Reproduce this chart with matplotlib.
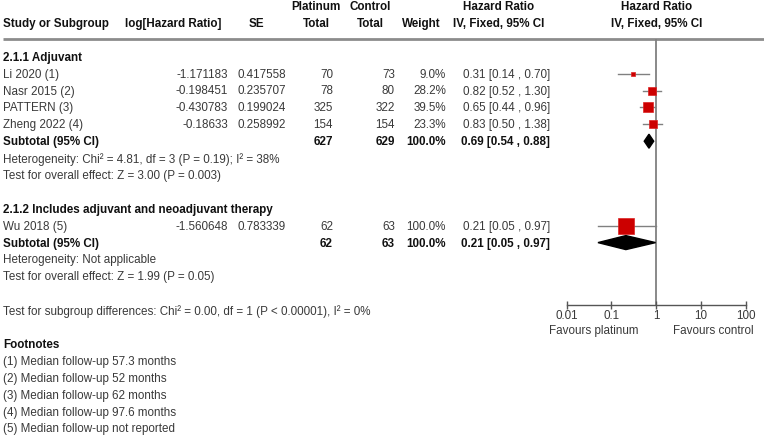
import matplotlib
matplotlib.use("Agg")
import matplotlib.pyplot as plt
import numpy as np

plt.rcParams['font.family'] = ['Liberation Sans', 'DejaVu Sans']

# Datos de los estudios
studies = ["Li 2020 (1)", "Nasr 2015 (2)", "PATTERN (3)", "Zheng 2022 (4)", "Wu 2018 (5)"]
log_hr = ["-1.171183", "-0.198451", "-0.430783", "-0.18633", "-1.560648"]
se = ["0.417558", "0.235707", "0.199024", "0.258992", "0.783339"]
plat_total = [70, 78, 325, 154, 62]
ctrl_total = [73, 80, 322, 154, 63]
weights = [9.0, 28.2, 39.5, 23.3, 100.0]
hr = [0.31, 0.82, 0.65, 0.83, 0.21]
ci_lo = [0.14, 0.52, 0.44, 0.50, 0.05]
ci_hi = [0.70, 1.30, 0.96, 1.38, 0.97]
study_group = [0, 0, 0, 0, 1]

# Subtotales por subgrupo
groups = ["2.1.1 Adjuvant", "2.1.2 Includes adjuvant and neoadjuvant therapy"]
sub_plat = [627, 62]
sub_ctrl = [629, 63]
sub_weight = [100.0, 100.0]
sub_hr = [0.69, 0.21]
sub_lo = [0.54, 0.05]
sub_hi = [0.88, 0.97]
heterogeneity = ["Heterogeneity: Chi² = 4.81, df = 3 (P = 0.19); I² = 38%",
                 "Heterogeneity: Not applicable"]
overall = ["Test for overall effect: Z = 3.00 (P = 0.003)",
           "Test for overall effect: Z = 1.99 (P = 0.05)"]
subgroup_test = "Test for subgroup differences: Chi² = 0.00, df = 1 (P < 0.00001), I² = 0%"
footnotes = ["(1) Median follow-up 57.3 months", "(2) Median follow-up 52 months",
             "(3) Median follow-up 62 months", "(4) Median follow-up 97.6 months",
             "(5) Median follow-up not reported"]
x_ticks = [0.01, 0.1, 1, 10, 100]
x_ticklabels = ["0.01", "0.1", "1", "10", "100"]

W, H = 764, 439
fig = plt.figure(figsize=(W / 100, H / 100), dpi=100)

# Geometria de filas (pixeles)
Y0, DY = 7.0, 16.9
def ypix(r):
    return Y0 + DY * r

FS = 8.4
TXT = '#3a3a3a'

# Eje de fondo para el texto (coordenadas en pixeles)
bg = fig.add_axes([0, 0, 1, 1])
bg.set_xlim(0, W)
bg.set_ylim(H, 0)
bg.axis('off')

def txt(x, r, s, ha='left', bold=False, color=None):
    bg.text(x, ypix(r), s, ha=ha, va='center', fontsize=FS,
            fontweight='bold' if bold else 'normal',
            color=color or ('#111111' if bold else TXT))

# Cabeceras
txt(3, 1, "Study or Subgroup", bold=True)
txt(173, 1, "log[Hazard Ratio]", ha='center', bold=True)
txt(256, 1, "SE", ha='center', bold=True)
txt(316, 0, "Platinum", ha='center', bold=True)
txt(316, 1, "Total", ha='center', bold=True)
txt(370, 0, "Control", ha='center', bold=True)
txt(370, 1, "Total", ha='center', bold=True)
txt(421.5, 1, "Weight", ha='center', bold=True)
txt(498.5, 0, "Hazard Ratio", ha='center', bold=True)
txt(498.5, 1, "IV, Fixed, 95% CI", ha='center', bold=True)
txt(656.5, 0, "Hazard Ratio", ha='center', bold=True)
txt(656.5, 1, "IV, Fixed, 95% CI", ha='center', bold=True)
bg.plot([3, W], [40, 40], color='#8c8c8c', lw=2, solid_capstyle='butt')

# Asignar filas
study_rows = []
sub_rows = []
r = 3
for g in range(len(groups)):
    txt(3, r, groups[g], bold=True)
    r += 1
    for i in range(len(studies)):
        if study_group[i] == g:
            study_rows.append(r)
            r += 1
    sub_rows.append(r)
    txt(3, r + 1, heterogeneity[g])
    txt(3, r + 2, overall[g])
    r += 4

# Filas de estudios
for i, row in enumerate(study_rows):
    txt(3, row, studies[i])
    txt(228, row, log_hr[i], ha='right')
    txt(286, row, se[i], ha='right')
    txt(333, row, str(plat_total[i]), ha='right')
    txt(395, row, str(ctrl_total[i]), ha='right')
    txt(446, row, "%.1f%%" % weights[i], ha='right')
    txt(550, row, "%.2f [%.2f , %.2f]" % (hr[i], ci_lo[i], ci_hi[i]), ha='right')

# Filas de subtotales
for g, row in enumerate(sub_rows):
    txt(3, row, "Subtotal (95% CI)", bold=True)
    txt(333, row, str(sub_plat[g]), ha='right', bold=True)
    txt(395, row, str(sub_ctrl[g]), ha='right', bold=True)
    txt(446, row, "%.1f%%" % sub_weight[g], ha='right', bold=True)
    txt(550, row, "%.2f [%.2f , %.2f]" % (sub_hr[g], sub_lo[g], sub_hi[g]), ha='right', bold=True)

txt(3, r, subgroup_test)
r += 2
txt(3, r, "Footnotes", bold=True)
for k, f in enumerate(footnotes):
    txt(3, r + 1 + k, f)

# Eje del forest plot
x_left, x_right = 566.7, 745.7
y_top, y_bot = 40.0, 306.0
ax = fig.add_axes([x_left / W, 1 - y_bot / H, (x_right - x_left) / W, (y_bot - y_top) / H])
ax.patch.set_alpha(0)
ax.set_xscale('log')
ax.set_xlim(0.01, 100)
ax.set_ylim((y_bot - Y0) / DY, (y_top - Y0) / DY)
for s in ['top', 'right', 'left']:
    ax.spines[s].set_visible(False)
ax.spines['bottom'].set_color('#555555')
ax.spines['bottom'].set_linewidth(1)
ax.set_yticks([])
ax.set_xticks(x_ticks)
ax.set_xticklabels(x_ticklabels)
ax.minorticks_off()
ax.tick_params(axis='x', direction='inout', length=6, width=1, color='#555555',
               labelsize=FS, labelcolor=TXT, pad=0)

ax.axvline(1, color='#808080', lw=1.3, zorder=1)

# Intervalos y cuadrados
for i, row in enumerate(study_rows):
    ax.plot([ci_lo[i], ci_hi[i]], [row, row], color='#808080', lw=1, zorder=2)
    ms = 11.0 * np.sqrt(weights[i] / 100.0)
    ax.plot(hr[i], row, marker='s', ms=ms, color='#cc0000', mec='#dd2222', mew=0.5, zorder=3)

# Diamantes de subtotales
h = 7.0 / DY
for g, row in enumerate(sub_rows):
    ax.fill([sub_lo[g], sub_hr[g], sub_hi[g], sub_hr[g]],
            [row, row - h, row, row + h], color='black', zorder=3)

# Etiquetas de direccion
txt(593.5, 19.2, "Favours platinum", ha='center')
txt(713.5, 19.2, "Favours control", ha='center')

fig.savefig("out.png", dpi=100)
